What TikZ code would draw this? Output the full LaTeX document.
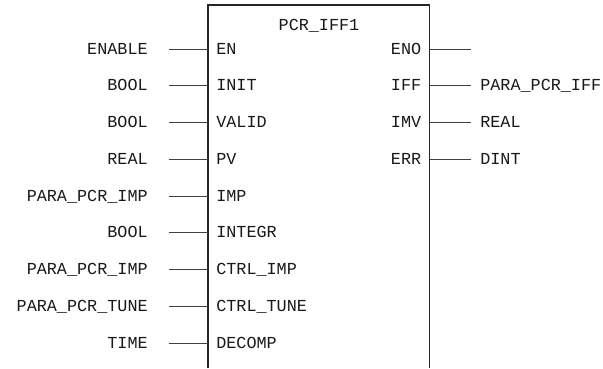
\documentclass[tikz,border=0pt]{standalone}
\usepackage{fontspec}
\setmonofont{Liberation Mono}
\begin{document}
\begin{tikzpicture}[x=0.75pt,y=-0.75pt,
  lbl/.style={font=\ttfamily\fontsize{12.6}{13}\selectfont, inner sep=0pt, text=black!90},
  wire/.style={draw=black!75, line width=0.75pt},
  boxline/.style={draw=black!85, line width=0.9pt}]
\useasboundingbox (0,0) rectangle (603,368);
% function block (open at the bottom)
\coordinate (bl) at (208,368);
\coordinate (tl) at (208,5);
\coordinate (tr) at (429.5,5);
\coordinate (br) at (429.5,368);
\draw[boxline] (bl) -- (tl) -- (tr) -- (br);
\node[lbl, anchor=base] (title) at (319,30) {PCR\_IFF1};
% inputs
\foreach \ext/\pin [count=\i from 0] in {ENABLE/EN, BOOL/INIT, BOOL/VALID, REAL/PV, PARA\_PCR\_IMP/IMP, BOOL/INTEGR, PARA\_PCR\_IMP/CTRL\_IMP, PARA\_PCR\_TUNE/CTRL\_TUNE, TIME/DECOMP}{
  \pgfmathsetmacro{\yy}{49+36.75*\i}
  \node[lbl, anchor=base east] (inext\i) at (148,\yy+5) {\ext};
  \node[lbl, anchor=base west] (inpin\i) at (216,\yy+5) {\pin};
  \coordinate (inw\i) at (168.5,\yy);
  \coordinate (inb\i) at (208,\yy);
  \draw[wire] (inw\i) -- (inb\i);
}
% outputs
\foreach \pin/\ext [count=\i from 0] in {ENO/, IFF/PARA\_PCR\_IFF, IMV/REAL, ERR/DINT}{
  \pgfmathsetmacro{\yy}{49+36.75*\i}
  \node[lbl, anchor=base east] (outpin\i) at (421.5,\yy+5) {\pin};
  \node[lbl, anchor=base west] (outext\i) at (480,\yy+5) {\ext};
  \coordinate (outb\i) at (429.5,\yy);
  \coordinate (outw\i) at (470.5,\yy);
  \draw[wire] (outb\i) -- (outw\i);
}
\end{tikzpicture}
\end{document}
